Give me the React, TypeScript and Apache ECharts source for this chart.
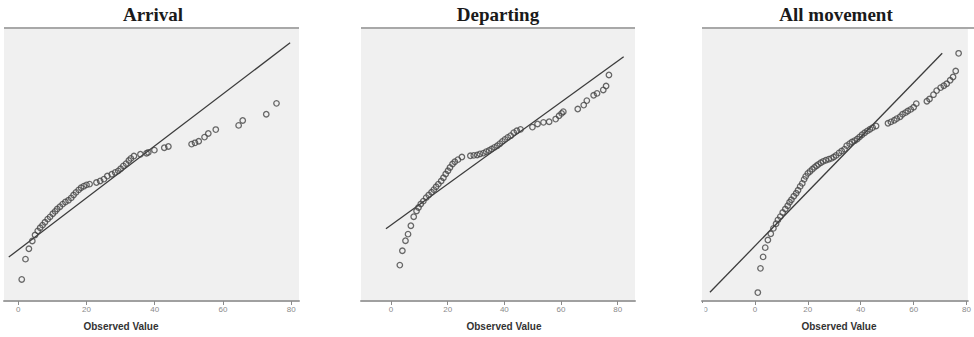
import React, { useEffect, useRef } from "react";
import * as echarts from "echarts";

const titles = ["Arrival", "Departing", "All movement"];
const axisName = "Observed Value";
const tickValues = [0, 20, 40, 60, 80];
const tickValuesAll = [-20, 0, 20, 40, 60, 80];

// [observed, expected normal]
const arrival: number[][] = [
  [1.0, -11.4], [2.1, -3.6], [3.1, 0.4], [4.1, 3.4], [4.9, 5.7], [5.7, 7.3], [6.4, 8.5],
  [7.1, 9.5], [7.8, 10.6], [8.6, 11.8], [9.3, 12.7], [10.1, 13.9], [10.8, 14.8], [11.4, 15.7],
  [12.2, 16.6], [13.0, 17.6], [13.8, 18.4], [14.7, 19.1], [15.5, 20.0], [16.2, 21.1], [16.9, 22.1],
  [17.7, 23.1], [18.4, 23.9], [19.2, 24.5], [20.0, 25.0], [20.9, 25.3], [22.9, 25.9], [24.0, 26.5],
  [25.1, 27.2], [26.1, 28.4], [27.4, 29.1], [28.4, 29.8], [29.3, 30.4], [30.0, 31.2], [30.8, 32.3],
  [31.6, 33.2], [32.4, 34.4], [33.0, 35.2], [33.9, 36.1], [35.8, 36.8], [37.6, 37.2], [38.1, 37.5],
  [39.9, 38.4], [42.8, 39.3], [44.0, 39.8], [50.8, 40.7], [51.8, 41.2], [52.9, 41.8], [54.6, 43.4],
  [55.7, 44.8], [57.9, 46.3], [64.6, 47.9], [65.8, 49.8], [72.7, 52.2], [75.7, 56.4],
];

const departing: number[][] = [
  [3.1, -19.5], [4.0, -12.5], [5.1, -7.6], [6.0, -4.4], [7.0, -0.3], [8.0, 4.1], [9.0, 6.9],
  [9.7, 8.6], [10.5, 10.3], [11.4, 11.7], [12.4, 13.4], [13.3, 14.7], [14.3, 16.0], [15.1, 17.3],
  [15.9, 18.7], [16.7, 20.0], [17.7, 21.5], [18.5, 23.1], [19.3, 24.9], [20.1, 26.5], [20.8, 28.1],
  [21.7, 29.8], [22.5, 30.9], [23.6, 31.9], [25.0, 33.2], [28.0, 33.8], [29.2, 34.0], [30.4, 34.2],
  [31.4, 34.7], [32.6, 35.1], [33.6, 35.8], [34.6, 36.4], [35.5, 37.1], [36.5, 37.9], [37.5, 38.7],
  [38.4, 39.7], [39.3, 40.8], [40.2, 41.8], [41.2, 42.8], [42.2, 43.6], [43.3, 45.1], [44.4, 46.0],
  [45.7, 46.7], [49.9, 47.8], [51.7, 49.3], [53.8, 50.1], [55.8, 50.4], [58.1, 51.7], [59.3, 53.3],
  [60.2, 54.5], [60.8, 55.3], [65.9, 56.6], [68.0, 58.5], [69.1, 60.7], [71.5, 63.3], [72.7, 64.2],
  [74.9, 65.9], [75.9, 67.8], [76.9, 73.2],
];

const allMovement: number[][] = [
  [1.1, -17.1], [2.1, -8.2], [3.1, -4.0], [3.9, -0.6], [4.9, 2.2], [6.0, 4.5], [7.0, 6.5],
  [8.0, 8.2], [8.7, 9.6], [9.6, 10.8], [10.5, 12.3], [11.5, 13.6], [12.4, 14.8], [13.1, 16.1],
  [13.8, 17.0], [14.7, 18.3], [15.6, 19.4], [16.3, 20.5], [17.1, 21.9], [17.9, 23.0], [18.6, 24.5],
  [19.2, 25.6], [20.0, 26.7], [20.8, 27.4], [21.7, 28.2], [22.5, 28.9], [23.3, 29.5], [24.0, 30.0],
  [24.9, 30.6], [25.8, 31.1], [26.8, 31.5], [27.9, 31.9], [28.9, 32.2], [29.8, 32.7], [30.7, 33.3],
  [31.8, 34.2], [32.8, 34.9], [33.9, 35.6], [34.7, 36.9], [35.8, 37.6], [36.7, 38.2], [37.7, 38.7],
  [38.7, 39.3], [39.6, 40.1], [40.5, 40.9], [41.5, 41.6], [42.5, 42.3], [43.5, 42.9], [44.5, 43.5],
  [45.8, 44.1], [50.3, 45.1], [51.4, 45.6], [52.7, 46.2], [53.6, 46.8], [54.9, 47.5], [55.8, 48.4],
  [56.9, 49.0], [57.8, 49.6], [58.9, 50.2], [60.0, 51.0], [61.0, 52.3], [65.0, 53.2], [66.0, 54.0],
  [67.5, 55.6], [68.7, 57.1], [70.2, 58.2], [71.4, 58.9], [72.5, 59.6], [73.8, 60.9], [74.9, 62.1],
  [75.9, 64.3], [77.0, 70.8],
];

// reference line y = x, start and end on the observed scale
const lineEnds = [
  [-2.8, 79.7],
  [-1.8, 82.1],
  [-17.0, 70.8],
];

const xRanges = [
  [-4.2, 82.3],
  [-10.6, 86.1],
  [-20, 80.5],
];
const yRanges = [
  [-19.7, 85.4],
  [-37.0, 96.1],
  [-20.2, 80.1],
];

const panels = [
  { left: 4, width: 295, titleX: 153, nameX: 121 },
  { left: 361, width: 274, titleX: 498, nameX: 504 },
  { left: 702, width: 273, titleX: 836, nameX: 839 },
];

const TOP = 28;
const HEIGHT = 273;

export default function App() {
  const ref = useRef<HTMLDivElement>(null);
  useEffect(() => {
    document.body.style.margin = "0";
    if (!ref.current) return;
    const chart = echarts.init(ref.current, undefined, { renderer: "svg" });
    const datasets = [arrival, departing, allMovement];
    const grid: any[] = [];
    const xAxis: any[] = [];
    const yAxis: any[] = [];
    const series: any[] = [];
    const graphic: any[] = [];
    panels.forEach((p, i) => {
      grid.push({
        left: p.left,
        top: TOP,
        width: p.width,
        height: HEIGHT,
        show: true,
        backgroundColor: "#f0f0f0",
        borderWidth: 0,
      });
      const ticks = i === 2 ? tickValuesAll : tickValues;
      xAxis.push({
        type: "value",
        gridIndex: i,
        min: xRanges[i][0],
        max: xRanges[i][1],
        axisLine: { show: true, onZero: false, lineStyle: { color: "#a0a0a0", width: 2 } },
        axisTick: { show: true, customValues: ticks, length: 4, lineStyle: { color: "#8a8a8a", width: 1 } },
        axisLabel: {
          customValues: ticks,
          color: "#8a8a8a",
          fontSize: 8,
          fontFamily: "Liberation Sans, Arial, sans-serif",
          margin: 4,
          formatter: (v: number) => String(Math.round(v)),
        },
        splitLine: { show: false },
      });
      yAxis.push({
        type: "value",
        gridIndex: i,
        min: yRanges[i][0],
        max: yRanges[i][1],
        show: false,
        splitLine: { show: false },
      });
      series.push({
        type: "line",
        xAxisIndex: i,
        yAxisIndex: i,
        data: [
          [lineEnds[i][0], lineEnds[i][0]],
          [lineEnds[i][1], lineEnds[i][1]],
        ],
        symbol: "none",
        lineStyle: { color: "#3c3c3c", width: 1.3 },
        silent: true,
        z: 2,
      });
      series.push({
        type: "scatter",
        xAxisIndex: i,
        yAxisIndex: i,
        data: datasets[i],
        symbol: "circle",
        symbolSize: 5.5,
        itemStyle: { color: "transparent", borderColor: "#454545", borderWidth: 1.3 },
        z: 3,
      });
      graphic.push({
        type: "rect",
        shape: { x: p.left, y: TOP - 1, width: p.width, height: 2 },
        style: { fill: "#a8a8a8" },
        z: 10,
      });
      graphic.push({
        type: "text",
        x: p.titleX,
        y: 14,
        style: {
          text: titles[i],
          font: "bold 19px 'Liberation Serif', 'Times New Roman', serif",
          fill: "#1a1a1a",
          align: "center",
          verticalAlign: "middle",
        },
      });
      graphic.push({
        type: "text",
        x: p.nameX,
        y: 326,
        style: {
          text: axisName,
          font: "bold 10px 'Liberation Sans', Arial, sans-serif",
          fill: "#333",
          align: "center",
          verticalAlign: "middle",
        },
      });
    });
    // crop of the left edge of the third panel's labels
    graphic.push({
      type: "rect",
      shape: { x: 660, y: 303, width: 44.5, height: 14 },
      style: { fill: "#ffffff" },
      z: 100,
    });
    chart.setOption({
      animation: false,
      backgroundColor: "#ffffff",
      grid,
      xAxis,
      yAxis,
      series,
      graphic,
    });
    return () => chart.dispose();
  }, []);
  return <div ref={ref} style={{ width: 974, height: 337 }} />;
}
